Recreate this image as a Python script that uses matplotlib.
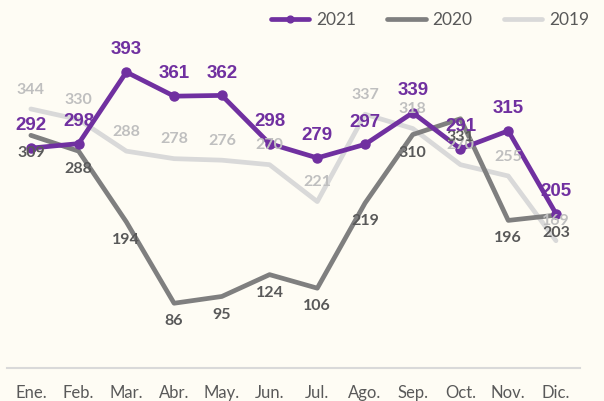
import matplotlib.pyplot as plt

# data
months = ['Ene.', 'Feb.', 'Mar.', 'Abr.', 'May.', 'Jun.',
          'Jul.', 'Ago.', 'Sep.', 'Oct.', 'Nov.', 'Dic.']
v2021 = [292, 298, 393, 361, 362, 298, 279, 297, 339, 291, 315, 205]
v2020 = [309, 288, 194, 86, 95, 124, 106, 219, 310, 331, 196, 203]
v2019 = [344, 330, 288, 278, 276, 270, 221, 337, 318, 270, 255, 169]

bg = '#FEFCF4'
purple = '#7030A0'
dgray = '#7F7F7F'
lgray = '#D9D9D9'

fig = plt.figure(figsize=(6.04, 4.01), dpi=100, facecolor=bg)
ax = fig.add_axes([0.0116, 0.0823, 0.9484, 0.845])
ax.set_facecolor(bg)
x = list(range(len(months)))

ax.plot(x, v2019, color=lgray, lw=3.4, solid_capstyle='round', zorder=2, label='2019')
ax.plot(x, v2020, color=dgray, lw=3.4, solid_capstyle='round', zorder=3, label='2020')
ax.plot(x, v2021, color=purple, lw=3.4, marker='o', ms=6.5, solid_capstyle='round',
        zorder=4, label='2021')

lab = dict(family=['Lato', 'DejaVu Sans'], fontweight='bold', fontsize=11.5,
           ha='center', va='center')
for i in x:
    ax.annotate(str(v2019[i]), (i, v2019[i]), xytext=(0, 14), textcoords='offset points',
                color='#BFBFBF', zorder=5, **lab)
    ax.annotate(str(v2020[i]), (i, v2020[i]), xytext=(0, -13), textcoords='offset points',
                color='#595959', zorder=5, **lab)
for i in x:
    ax.annotate(str(v2021[i]), (i, v2021[i]), xytext=(0, 16), textcoords='offset points',
                color=purple, fontsize=13.5, fontweight='bold',
                family=['Liberation Sans', 'DejaVu Sans'],
                ha='center', va='center', zorder=6)

ax.set_xlim(-0.5, 11.5)
ax.set_ylim(0, 450)
ax.set_xticks(x)
ax.set_xticklabels(months, family=['Lato', 'DejaVu Sans'], fontsize=12, color='#595959')
ax.tick_params(axis='x', length=0, pad=12)
ax.set_yticks([])
for s in ['top', 'right', 'left']:
    ax.spines[s].set_visible(False)
ax.spines['bottom'].set_color(lgray)
ax.spines['bottom'].set_linewidth(1.5)

h, l = ax.get_legend_handles_labels()
fig.legend(h[::-1], l[::-1], loc='center', bbox_to_anchor=(0.712, 0.95), ncol=3,
           frameon=False, prop={'family': ['Lato', 'DejaVu Sans'], 'size': 12.5},
           labelcolor='#595959', handlelength=2.2, handletextpad=0.4, columnspacing=1.8,
           markerscale=0.75)

fig.savefig('out.png', dpi=100, facecolor=bg)
